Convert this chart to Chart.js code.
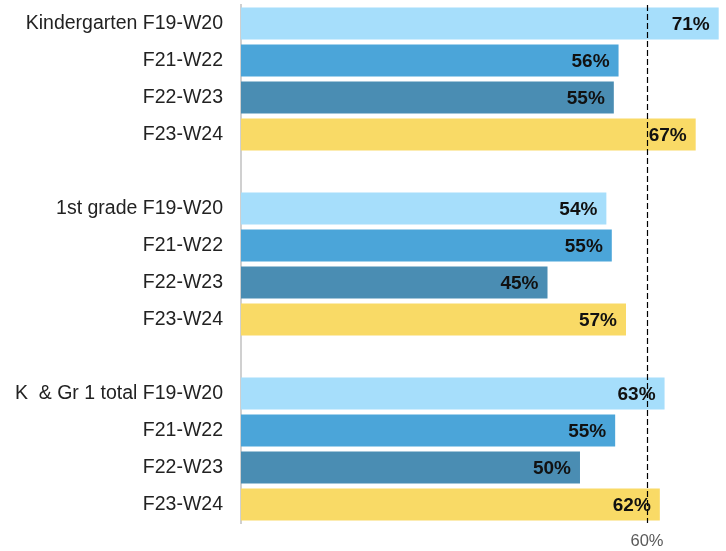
<!DOCTYPE html>
<html>
<head>
<meta charset="utf-8">
<script src="https://cdn.jsdelivr.net/npm/chart.js@4/dist/chart.umd.min.js"></script>
<style>
  html, body { margin: 0; padding: 0; background: #fff; }
  #wrap { width: 726px; height: 551px; position: relative; }
</style>
</head>
<body>
<div id="wrap"><canvas id="c"></canvas></div>
<script>
// ---- data ----
const categories = [
  "Kindergarten F19-W20", "F21-W22", "F22-W23", "F23-W24", "",
  "1st grade F19-W20", "F21-W22", "F22-W23", "F23-W24", "",
  "K  & Gr 1 total F19-W20", "F21-W22", "F22-W23", "F23-W24"
];
const values = [
  70.6, 55.8, 55.1, 67.2, null,
  54.0, 54.8, 45.3, 56.9, null,
  62.6, 55.3, 50.1, 61.9
];
const periodColors = ["#A6DEFB", "#4BA5D9", "#4A8DB3", "#F9DA66"];
const barColors = [
  periodColors[0], periodColors[1], periodColors[2], periodColors[3], "#fff",
  periodColors[0], periodColors[1], periodColors[2], periodColors[3], "#fff",
  periodColors[0], periodColors[1], periodColors[2], periodColors[3]
];
const referenceValue = 60;
const xTickValues = [60];

const FONT = "'Liberation Sans', Arial, Helvetica, sans-serif";

const refLinePlugin = {
  id: 'refLine',
  afterDatasetsDraw(chart) {
    const { ctx, chartArea, scales } = chart;
    const x = Math.round(scales.x.getPixelForValue(referenceValue)) + 0.5;
    ctx.save();
    ctx.strokeStyle = '#000';
    ctx.lineWidth = 1.2;
    ctx.setLineDash([6, 3]);
    ctx.beginPath();
    ctx.moveTo(x, chartArea.top);
    ctx.lineTo(x, chartArea.bottom);
    ctx.stroke();
    ctx.restore();

    // value labels inside bar end
    const meta = chart.getDatasetMeta(0);
    ctx.save();
    ctx.font = "bold 19px " + FONT;
    ctx.fillStyle = '#111';
    ctx.textAlign = 'right';
    ctx.textBaseline = 'middle';
    meta.data.forEach((bar, i) => {
      const v = values[i];
      if (v === null || v === undefined) return;
      ctx.fillText(Math.round(v) + '%', bar.x - 9, bar.y + 1);
    });
    ctx.restore();
  }
};

new Chart(document.getElementById('c'), {
  type: 'bar',
  data: {
    labels: categories,
    datasets: [{
      data: values,
      backgroundColor: barColors,
      borderWidth: 0,
      categoryPercentage: 0.865,
      barPercentage: 1.0
    }]
  },
  options: {
    indexAxis: 'y',
    responsive: true,
    maintainAspectRatio: false,
    animation: false,
    layout: { padding: { top: 5, right: 4.6, left: 0, bottom: 0 } },
    plugins: {
      legend: { display: false },
      tooltip: { enabled: false }
    },
    scales: {
      x: {
        min: 0,
        max: 71,
        grid: { display: false, drawTicks: false },
        border: { display: false },
        afterBuildTicks(scale) { scale.ticks = xTickValues.map(v => ({ value: v })); },
        afterFit(scale) { scale.height = 28; scale.paddingLeft = 0; scale.paddingRight = 0; },
        ticks: {
          padding: 9,
          color: '#595959',
          font: { family: FONT, size: 16.5 },
          callback: (v) => v + '%'
        }
      },
      y: {
        grid: { display: false, drawTicks: false },
        border: { display: true, color: '#D0D0D0', width: 2 },
        afterFit(scale) { scale.width = 241; scale.paddingTop = 0; scale.paddingBottom = 0; },
        ticks: {
          padding: 18,
          color: '#222',
          autoSkip: false,
          font: { family: FONT, size: 19.5 }
        }
      }
    }
  },
  plugins: [refLinePlugin]
});
</script>
</body>
</html>
